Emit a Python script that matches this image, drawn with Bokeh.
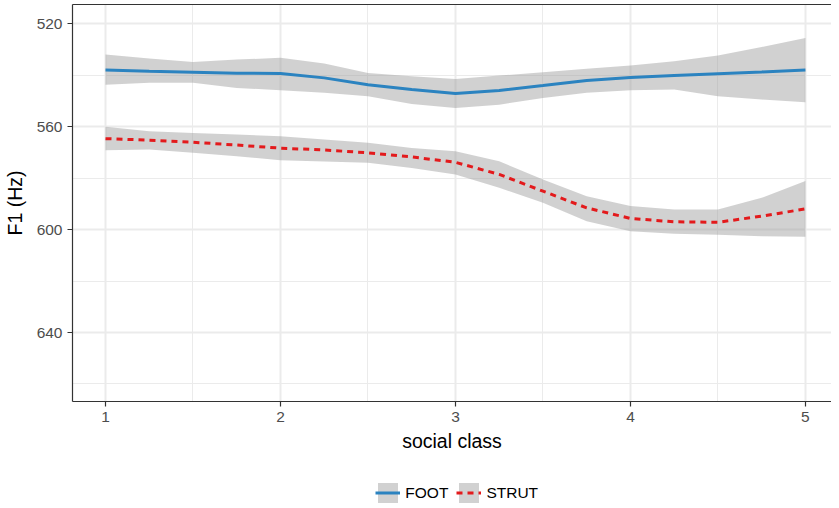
from bokeh.plotting import figure
from bokeh.models import Range1d, LinearAxis, FixedTicker, Legend, LegendItem
from bokeh.layouts import column
from bokeh.embed import file_html
from bokeh.resources import INLINE

social_class = [1, 1.25, 1.5, 1.75, 2, 2.25, 2.5, 2.75, 3, 3.25, 3.5, 3.75, 4, 4.25, 4.5, 4.75, 5]

foot_fit = [538.0, 538.5, 538.9, 539.3, 539.4, 541.1, 543.8, 545.6, 547.2, 546.0, 544.1, 542.1, 541.0, 540.2, 539.5, 538.8, 538.0]
foot_lo = [532.0, 533.6, 534.9, 534.0, 533.3, 535.5, 539.2, 540.5, 541.5, 540.2, 538.9, 537.6, 536.3, 534.6, 532.4, 529.1, 525.6]
foot_hi = [543.8, 543.0, 543.0, 545.0, 545.9, 546.9, 548.2, 551.2, 552.8, 551.5, 548.9, 546.9, 545.9, 545.6, 548.2, 549.5, 550.6]

strut_fit = [564.7, 565.3, 566.1, 567.2, 568.4, 569.1, 570.2, 571.8, 573.9, 578.6, 585.1, 591.6, 595.7, 597.0, 597.2, 594.8, 592.0]
strut_lo = [560.1, 561.8, 562.5, 563.1, 563.8, 565.0, 566.3, 568.3, 569.6, 573.5, 580.6, 587.1, 590.9, 592.2, 592.2, 587.7, 581.2]
strut_hi = [569.2, 568.9, 570.2, 571.5, 573.1, 573.6, 574.1, 576.1, 578.6, 583.8, 589.6, 596.8, 600.7, 601.6, 602.0, 602.6, 602.8]

series_labels = ["FOOT", "STRUT"]
x_ticks = [1, 2, 3, 4, 5]
x_minor = [1.5, 2.5, 3.5, 4.5]
y_ticks = [520, 560, 600, 640]
y_minor = [540, 580, 620, 660]

FONT = "Liberation Sans"
BLUE = "#2b83c0"
RED = "#e31a1c"
band_kw = dict(fill_color="#999999", fill_alpha=0.45)


def draw_series(fig):
    b1 = fig.varea(x=social_class, y1=foot_lo, y2=foot_hi, **band_kw)
    b2 = fig.varea(x=social_class, y1=strut_lo, y2=strut_hi, **band_kw)
    l1 = fig.line(social_class, foot_fit, line_color=BLUE, line_width=3)
    l2 = fig.line(social_class, strut_fit, line_color=RED, line_width=3, line_dash="6 5")
    return b1, l1, b2, l2


p = figure(frame_width=759, frame_height=397, output_backend="svg", toolbar_location=None,
           x_range=Range1d(0.8114, 5.149), y_range=Range1d(666.8, 512.6),
           min_border_left=64, min_border_right=0, min_border_top=4, min_border_bottom=66,
           x_axis_label="social class", y_axis_label="F1 (Hz)")
p.outline_line_color = None
p.background_fill_color = "white"
p.border_fill_color = "white"

for ax, ticks, minor in ((p.xaxis[0], x_ticks, x_minor), (p.yaxis[0], y_ticks, y_minor)):
    ax.ticker = FixedTicker(ticks=ticks, minor_ticks=minor)
    ax.axis_line_color = "#333333"
    ax.axis_line_width = 1.2
    ax.major_tick_line_color = "#333333"
    ax.major_tick_line_width = 1.2
    ax.major_tick_in = 0
    ax.major_tick_out = 5
    ax.minor_tick_line_color = None
    ax.major_label_text_font = FONT
    ax.major_label_text_font_size = "15.5px"
    ax.major_label_text_color = "#4d4d4d"
    ax.axis_label_text_font = FONT
    ax.axis_label_text_font_size = "19.5px"
    ax.axis_label_text_font_style = "normal"
    ax.axis_label_text_color = "black"

p.xaxis[0].major_label_standoff = 5
p.xaxis[0].axis_label_standoff = 5
p.yaxis[0].major_label_standoff = 5
p.yaxis[0].axis_label_standoff = 8

top = LinearAxis(ticker=FixedTicker(ticks=[]), axis_line_color="#333333", axis_line_width=1.2,
                 major_tick_line_color=None, minor_tick_line_color=None,
                 major_label_text_font_size="0px", major_label_standoff=0, major_tick_out=0)
p.add_layout(top, "above")

for g in (p.xgrid[0], p.ygrid[0]):
    g.grid_line_color = "#ebebeb"
    g.grid_line_width = 2
    g.minor_grid_line_color = "#ebebeb"
    g.minor_grid_line_width = 1

draw_series(p)

# legend strip below the plot (series drawn out of view; only the key is visible)
lg = figure(frame_width=759, frame_height=40, output_backend="svg", toolbar_location=None,
            x_range=Range1d(-10, -9), y_range=Range1d(0, 1),
            min_border_left=64, min_border_right=0, min_border_top=0, min_border_bottom=0)
lg.axis.visible = False
lg.grid.visible = False
lg.outline_line_color = None
lg.background_fill_color = "white"
lg.border_fill_color = "white"
kb1, kl1, kb2, kl2 = draw_series(lg)

legend = Legend(items=[LegendItem(label=series_labels[0], renderers=[kb1, kl1]),
                       LegendItem(label=series_labels[1], renderers=[kb2, kl2])],
                orientation="horizontal", location=(354, 2))
legend.label_text_font = FONT
legend.label_text_font_size = "15.5px"
legend.label_text_color = "black"
legend.glyph_width = 25
legend.glyph_height = 25
legend.label_standoff = 5
legend.spacing = 8
legend.padding = 0
legend.margin = 0
legend.border_line_color = None
legend.background_fill_alpha = 0
lg.add_layout(legend, "center")

open("out.html", "w").write(file_html(column(p, lg, spacing=0), INLINE))
